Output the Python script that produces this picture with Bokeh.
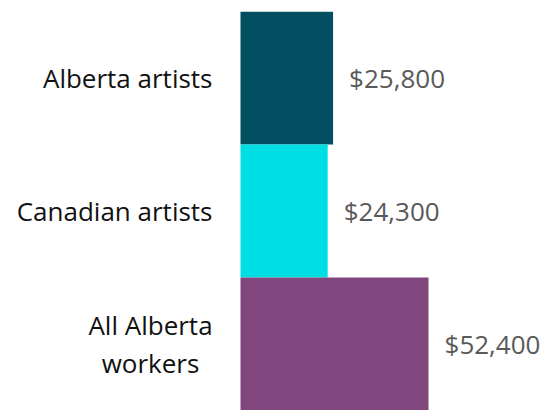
from bokeh.plotting import figure
from bokeh.models import ColumnDataSource, FactorRange, Range1d
from bokeh.core.properties import value
from bokeh.embed import file_html
from bokeh.resources import INLINE

categories = ["Alberta artists", "Canadian artists", "All Alberta\nworkers"]
incomes = [25800, 24300, 52400]
value_labels = ["$25,800", "$24,300", "$52,400"]
colors = ["#024F61", "#00DEE5", "#81467E"]

multi = ["\n" in c for c in categories]
src = ColumnDataSource(dict(cat=categories, val=incomes, lab=value_labels,
                            col=colors, zero=[0] * len(incomes),
                            align=["center" if m else "right" for m in multi],
                            xoff=[-90 if m else -28 for m in multi]))

p = figure(width=546, height=410, output_backend="svg", toolbar_location=None,
           y_range=FactorRange(factors=list(reversed(categories)), range_padding=0),
           x_range=Range1d(-66890, 85284),
           min_border_left=0, min_border_right=0, min_border_top=11, min_border_bottom=0)

p.hbar(y="cat", left=0, right="val", height=1.0, color="col", line_color=None, source=src)

p.text(x="zero", y="cat", text="cat", source=src, x_offset="xoff",
       text_align="align", text_baseline="middle",
       text_font=value("Open Sans"), text_font_size="26px", text_color="#111111",
       text_line_height=1.03)

p.text(x="val", y="cat", text="lab", source=src, x_offset=16,
       text_align="left", text_baseline="middle",
       text_font=value("Open Sans"), text_font_size="26px", text_color="#595959")

p.axis.visible = False
p.grid.visible = False
p.outline_line_color = None
p.background_fill_color = "white"
p.border_fill_color = "white"

open("out.html", "w").write(file_html(p, INLINE))
